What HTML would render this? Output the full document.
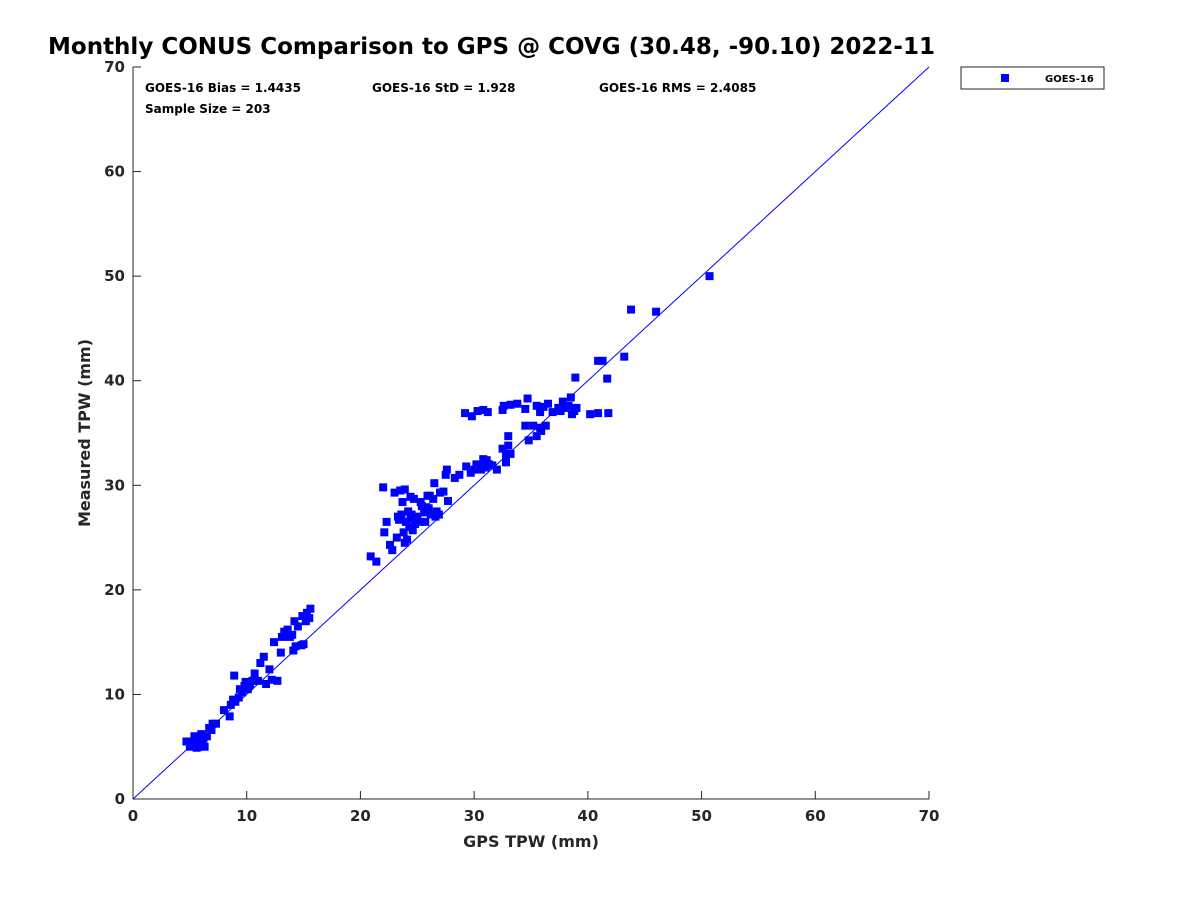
<!DOCTYPE html>
<html><head><meta charset="utf-8"><style>
body{margin:0;background:#fff;font-family:"Liberation Sans","DejaVu Sans",sans-serif;}
svg text{font-family:"DejaVu Sans","Liberation Sans",sans-serif;font-weight:bold;fill:#262626;}
</style></head><body>
<svg id="chart" width="1200" height="900" xmlns="http://www.w3.org/2000/svg">
<rect width="1200" height="900" fill="#fff"/>
<text x="48" y="54" font-size="23" fill="#000" style="fill:#000">Monthly CONUS Comparison to GPS @ COVG (30.48, -90.10) 2022-11</text>
<g id="axes"></g>
<g id="marks"></g>
<text x="145" y="92" font-size="12" style="fill:#000">GOES-16 Bias = 1.4435</text>
<text x="372" y="92" font-size="12" style="fill:#000">GOES-16 StD = 1.928</text>
<text x="599" y="92" font-size="12" style="fill:#000">GOES-16 RMS = 2.4085</text>
<text x="145" y="113" font-size="12" style="fill:#000">Sample Size = 203</text>
<g>
<rect x="961" y="67" width="143" height="22" fill="#fff" stroke="#262626" stroke-width="1"/>
<rect x="1001" y="74" width="8" height="8" fill="#0000ff"/>
<text x="1045" y="82" font-size="10" style="fill:#000">GOES-16</text>
</g>
<text x="531" y="847" font-size="16" text-anchor="middle">GPS TPW (mm)</text>
<text transform="translate(90,433) rotate(-90)" font-size="16" text-anchor="middle">Measured TPW (mm)</text>
</svg>
<script>
const xTicks=[0,10,20,30,40,50,60,70];
const yTicks=[0,10,20,30,40,50,60,70];
const gpsX=[4.7,5.0,5.2,5.4,5.5,5.7,5.8,6.0,6.2,6.3,5.6,6.1,6.5,5.3,6.0,
6.7,7.0,6.9,7.3,8.0,8.5,8.6,8.8,9.0,8.9,9.3,9.4,9.6,9.8,9.9,10.1,10.3,10.5,10.7,10.2,11.0,11.2,11.5,11.7,12.0,12.2,12.4,12.7,13.0,13.1,13.3,13.6,13.8,14.1,14.2,14.5,14.8,14.9,15.2,15.3,15.5,15.6,14.3,15.0,14.0,
20.9,21.4,22.0,22.1,22.3,22.6,22.8,23.0,23.2,23.4,23.5,23.6,23.7,23.8,23.9,24.0,24.1,24.2,24.3,24.4,24.5,24.7,24.8,25.0,25.2,25.4,25.6,25.7,25.9,26.0,26.2,26.4,26.5,26.7,26.9,27.0,27.3,27.5,27.6,27.7,28.3,28.7,23.3,24.6,25.3,26.1,23.9,25.8,24.4,26.6,
29.3,29.7,30.0,30.2,30.5,30.8,31.0,31.3,31.6,32.0,32.5,32.8,33.0,33.0,32.8,33.2,30.6,31.1,
29.2,29.8,30.3,30.8,31.2,32.5,32.6,33.2,33.8,34.5,34.7,35.5,35.8,36.1,36.5,36.9,37.4,37.8,38.0,38.3,38.5,38.8,39.0,38.9,40.2,40.9,41.8,37.6,38.6,
34.5,34.8,35.2,35.5,35.9,36.3,35.8,
40.9,41.3,41.7,43.2,43.8,46.0,50.7];
const measY=[5.5,5.0,5.5,6.0,5.2,5.5,5.0,6.2,5.8,5.0,4.9,5.4,6.0,5.3,5.1,
6.8,7.2,6.6,7.2,8.5,7.9,9.0,9.5,9.3,11.8,9.7,10.5,10.2,10.8,11.2,10.5,11.0,11.3,12.0,10.8,11.3,13.0,13.6,11.0,12.4,11.4,15.0,11.3,14.0,15.5,16.0,16.2,15.5,14.2,17.0,16.5,14.7,17.5,17.0,17.8,17.3,18.2,14.6,14.8,15.7,
23.2,22.7,29.8,25.5,26.5,24.3,23.8,29.3,25.0,26.7,29.5,27.2,28.4,25.5,29.6,26.5,24.8,27.5,26.0,28.9,27.2,28.7,26.3,27.0,26.5,28.0,27.4,26.5,29.0,27.8,27.2,28.7,30.2,27.5,27.2,29.3,29.4,31.0,31.5,28.5,30.7,31.0,27.0,25.7,28.4,29.0,24.5,27.9,26.8,27.0,
31.8,31.2,31.5,32.0,31.8,32.5,31.7,32.0,31.9,31.5,33.5,32.2,33.8,34.7,32.9,33.0,31.5,32.4,
36.9,36.6,37.1,37.2,37.0,37.2,37.6,37.7,37.8,37.3,38.3,37.6,37.0,37.5,37.8,37.0,37.4,38.0,37.4,37.6,38.4,37.1,37.4,40.3,36.8,36.9,36.9,37.1,36.8,
35.7,34.3,35.7,34.7,35.2,35.7,35.5,
41.9,41.9,40.2,42.3,46.8,46.6,50.0];
const X0=133,X1=929,Y0=799,Y1=67,XMAX=70,YMAX=70;
function sx(v){return X0+(X1-X0)*v/XMAX;}
function sy(v){return Y0-(Y0-Y1)*v/YMAX;}
const NS="http://www.w3.org/2000/svg";
const axes=document.getElementById('axes');
function mk(tag,attrs,parent){const e=document.createElementNS(NS,tag);for(const k in attrs)e.setAttribute(k,attrs[k]);parent.appendChild(e);return e;}
let l=mk('line',{x1:X0,y1:Y0,x2:X1,y2:Y0,stroke:'#262626'},axes);


l=mk('line',{x1:X0,y1:Y0,x2:X0,y2:Y1,stroke:'#262626'},axes);


xTicks.forEach(t=>{
 const x=sx(t);
 const tk=mk('line',{x1:x,y1:Y0,x2:x,y2:Y0-8,stroke:'#262626'},axes);
 
 
 const tx=mk('text',{x:x,y:Y0+22,'font-size':15,'text-anchor':'middle'},axes);
 tx.textContent=t;
 
 
});
yTicks.forEach(t=>{
 const y=sy(t);
 const tk=mk('line',{x1:X0,y1:y,x2:X0+8,y2:y,stroke:'#262626'},axes);
 
 
 const tx=mk('text',{x:X0-8,y:y+5,'font-size':15,'text-anchor':'end'},axes);
 tx.textContent=t;
 
 
});
const marks=document.getElementById('marks');
const ref=mk('line',{x1:sx(0),y1:sy(0),x2:sx(70),y2:sy(70),stroke:'#0000ff','stroke-width':1},marks);


gpsX.forEach((v,i)=>{
 const r=mk('rect',{x:sx(v)-4,y:sy(measY[i])-4,width:8,height:8,fill:'#0000ff'},marks);
 
 
});
</script>
</body></html>
